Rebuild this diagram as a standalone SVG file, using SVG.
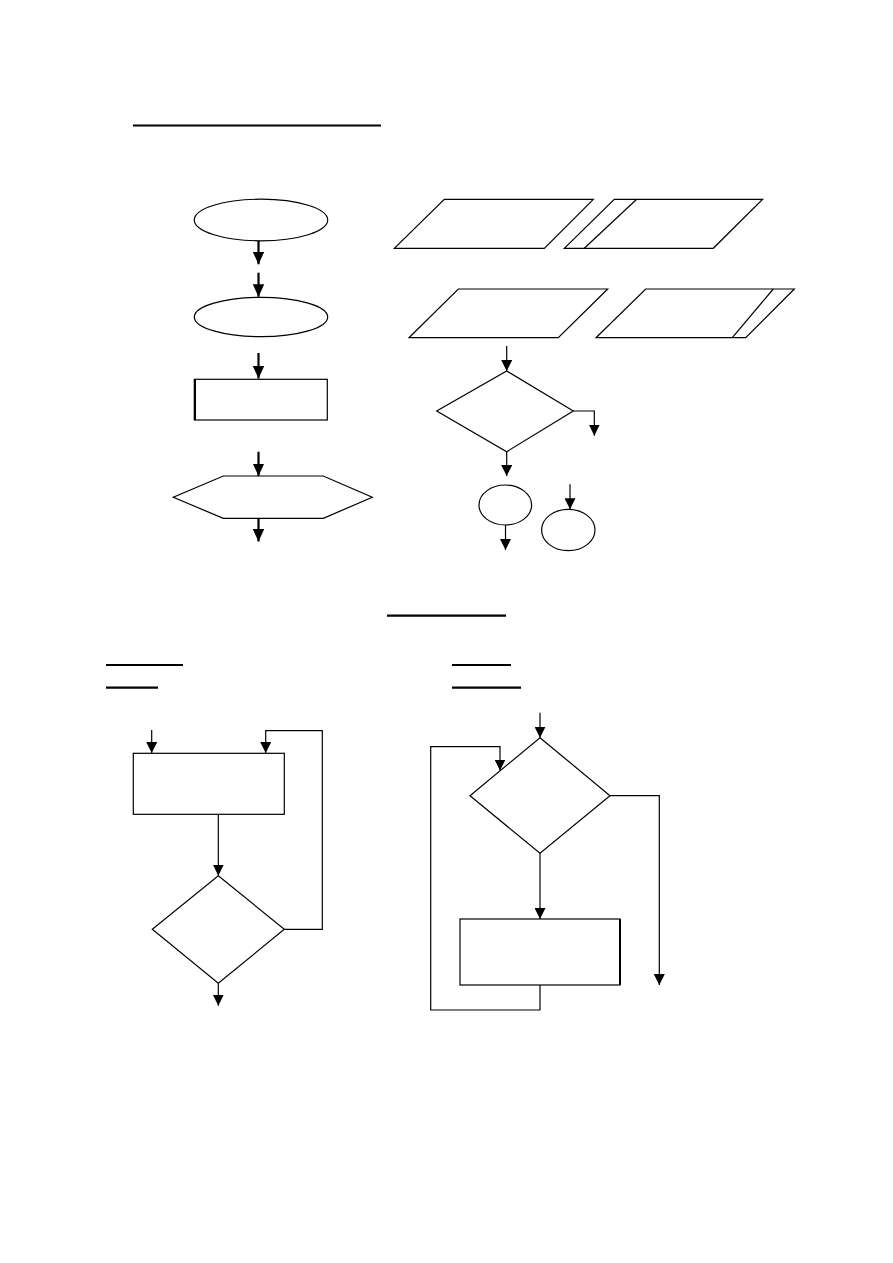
<svg xmlns="http://www.w3.org/2000/svg" width="893" height="1263" viewBox="0 0 893 1263">
<style>
.s{fill:#fff;stroke:#000;stroke-width:1.2}
.c{fill:none;stroke:#000;stroke-width:1.2}
.ct{fill:none;stroke:#000;stroke-width:2.2}
.u{stroke:#000;stroke-width:2.2}
</style>
<defs>
<marker id="ah" viewBox="0 0 10 10" refX="10" refY="5" markerUnits="userSpaceOnUse" markerWidth="11" markerHeight="11" orient="auto" preserveAspectRatio="none"><path d="M0,0 L10,5 L0,10 z" fill="#000"/></marker>
<marker id="ahb" viewBox="0 0 10 10" refX="10" refY="5" markerUnits="userSpaceOnUse" markerWidth="12.5" markerHeight="11.5" orient="auto" preserveAspectRatio="none"><path d="M0,0 L10,5 L0,10 z" fill="#000"/></marker>
</defs>
<rect width="893" height="1263" fill="#fff"/>
<g id="underlines">
<line class="u" x1="133" y1="125.5" x2="381" y2="125.5"/>
<line class="u" x1="387" y1="615.7" x2="506" y2="615.7"/>
<line class="u" x1="106" y1="665" x2="183" y2="665"/>
<line class="u" x1="106" y1="687.7" x2="158" y2="687.7"/>
<line class="u" x1="452" y1="665" x2="511" y2="665"/>
<line class="u" x1="452" y1="687.7" x2="521" y2="687.7"/>
</g>
<g id="terminal1"><ellipse class="s" cx="261" cy="220" rx="66.7" ry="20.8"/></g>
<g id="terminal2"><ellipse class="s" cx="261" cy="317" rx="66.7" ry="19.7"/></g>
<g id="process"><rect class="s" x="194.3" y="379.3" width="133" height="40.7"/><line x1="195" y1="379.3" x2="195" y2="420" stroke="#000" stroke-width="2"/></g>
<g id="preparation"><polygon class="s" points="223.3,476 323.3,476 372.3,497.3 323.3,518.3 223.3,518.3 173.3,497.3"/></g>
<g id="io1"><polygon class="s" points="444.3,199.3 593.3,199.3 544.3,248.3 394.3,248.3"/></g>
<g id="io2"><polygon class="s" points="614.3,199.3 762.7,199.3 713.3,248.3 564.3,248.3"/><line class="c" x1="636.7" y1="199.3" x2="584.3" y2="248.3"/></g>
<g id="io3"><polygon class="s" points="458.3,289 607.7,289 558.3,337.7 409,337.7"/></g>
<g id="io4"><polygon class="s" points="645.7,289 794.3,289 745.7,337.7 596,337.7"/><line class="c" x1="773.3" y1="289" x2="732.3" y2="337.7"/></g>
<g id="decision1"><polygon class="s" points="506.7,371 573.3,411 506.7,451.7 436.7,411"/></g>
<g id="connector1"><ellipse class="s" cx="505.3" cy="505" rx="26.3" ry="20"/></g>
<g id="connector2"><ellipse class="s" cx="568.3" cy="530" rx="26.7" ry="20.7"/></g>
<g id="repeat-process"><rect class="s" x="133.3" y="753.3" width="151" height="61"/></g>
<g id="repeat-decision"><polygon class="s" points="218.3,875.7 284.3,929.3 218.3,983.3 152.3,929.3"/></g>
<g id="while-decision"><polygon class="s" points="540,737.7 610,795.7 540,853.3 470,795.7"/></g>
<g id="while-process"><rect class="s" x="460" y="919" width="160" height="66"/><line x1="620" y1="919" x2="620" y2="985" stroke="#000" stroke-width="2"/></g>
<g id="connectors">
<path class="ct" d="M258.5,241 V264.3" marker-end="url(#ahb)"/>
<path class="ct" d="M258.5,272.7 V296.7" marker-end="url(#ahb)"/>
<path class="ct" d="M258.5,353 V378.5" marker-end="url(#ahb)"/>
<path class="ct" d="M258.5,451.7 V476" marker-end="url(#ahb)"/>
<path class="ct" d="M258.5,518.3 V541.5" marker-end="url(#ahb)"/>
<path class="c" d="M506.7,346 V371" marker-end="url(#ah)"/>
<path class="c" d="M573.3,411 H594.3 V435.7" marker-end="url(#ah)"/>
<path class="c" d="M506.7,451.7 V476" marker-end="url(#ah)"/>
<path class="c" d="M505.5,525 V550" marker-end="url(#ah)"/>
<path class="c" d="M570,484.3 V509.3" marker-end="url(#ah)"/>
<path class="c" d="M151.7,730 V753" marker-end="url(#ah)"/>
<path class="c" d="M284.3,929.3 H322.3 V730.7 H265.7 V753" marker-end="url(#ah)"/>
<path class="c" d="M218.3,814.3 V875.7" marker-end="url(#ah)"/>
<path class="c" d="M218.3,983.3 V1005.7" marker-end="url(#ah)"/>
<path class="c" d="M540,712.7 V737.7" marker-end="url(#ah)"/>
<path class="c" d="M610,795.7 H659.3 V985" marker-end="url(#ah)"/>
<path class="c" d="M540,853.3 V919" marker-end="url(#ah)"/>
<path class="c" d="M540,985 V1010 H430.7 V746.7 H500 V770.5" marker-end="url(#ah)"/>
</g>
</svg>
